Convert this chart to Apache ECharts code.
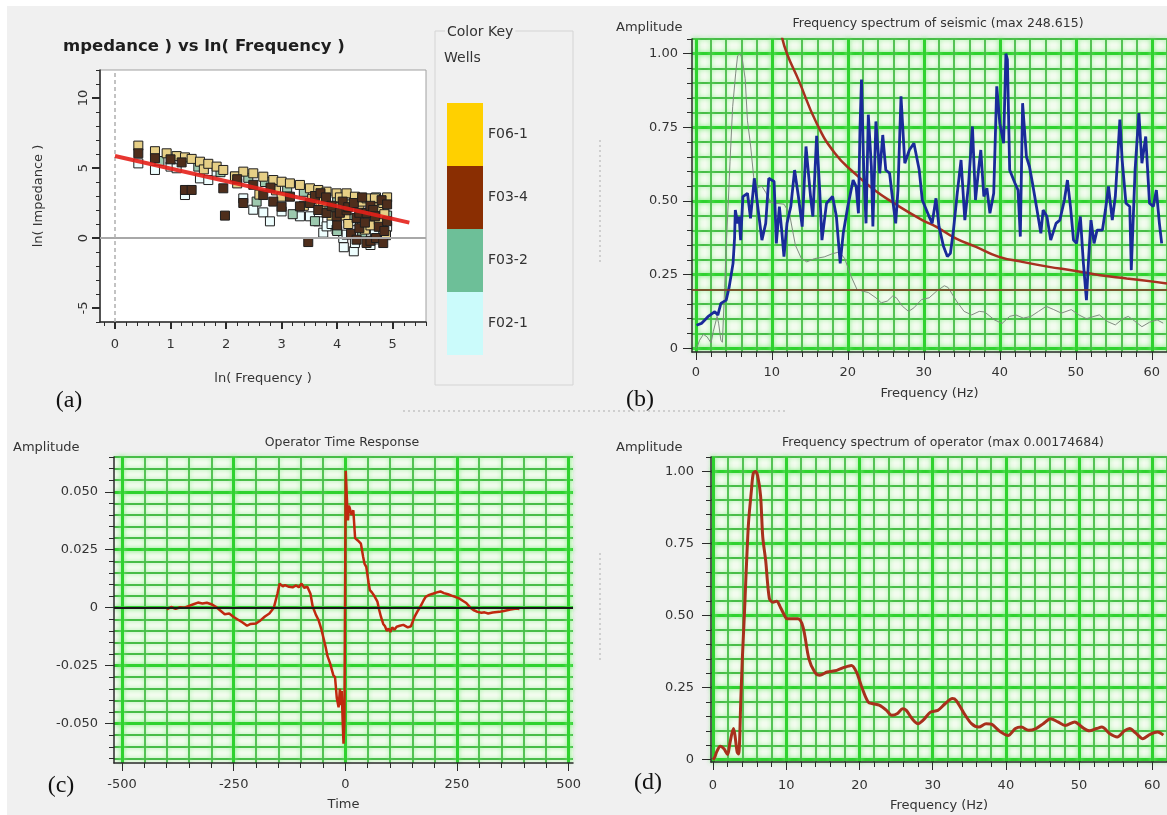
<!DOCTYPE html>
<html>
<head>
<meta charset="utf-8">
<title>Impedance trend and spectra</title>
<script src="https://cdn.jsdelivr.net/npm/echarts@6/dist/echarts.min.js"></script>
<style>
  html, body { margin: 0; padding: 0; background: #f0f0f0; }
  #main { width: 1167px; height: 815px; }
</style>
</head>
<body>
<div id="main"></div>
<script>
// (a) ln(Impedance) vs ln(Frequency), one list per well, [lnF, lnZ]
var wellF06_1 = [[0.42,6.6],[0.72,6.2],[0.93,6.05],[1.11,5.85],[1.26,5.76],[1.38,5.65],[1.53,5.45],[1.6,4.9],[1.68,5.3],[1.83,5.1],
  [1.95,4.86],[2.16,4.4],[2.2,3.9],[2.31,4.74],[2.49,4.62],[2.6,3.1],[2.67,4.38],[2.85,4.14],[2.9,3.4],[3.0,4.02],[3.0,2.95],
  [3.15,3.9],[3.33,3.79],[3.4,2.3],[3.51,3.55],[3.55,2.8],[3.66,3.43],[3.7,2.4],[3.75,2.6],[3.81,3.31],[3.9,1.6],[3.95,2.2],
  [3.99,3.19],[4.05,2.9],[4.15,1.6],[4.17,3.19],[4.2,1.0],[4.25,2.4],[4.32,2.95],[4.4,2.1],[4.45,2.6],[4.5,0.6],[4.53,2.83],
  [4.6,1.9],[4.6,0.9],[4.68,2.83],[4.75,1.3],[4.75,2.2],[4.83,2.5],[4.85,1.7],[4.88,0.2],[4.9,2.9]];
var wellF03_4 = [[0.42,6.05],[0.72,5.7],[1.0,5.62],[1.2,5.4],[1.26,3.43],[1.38,3.43],[1.95,3.55],[1.98,1.6],[2.2,4.2],[2.31,2.5],
  [2.49,3.8],[2.67,3.07],[2.8,3.6],[2.85,2.6],[3.0,2.23],[3.15,2.95],[3.33,2.26],[3.48,-0.29],[3.51,2.5],[3.6,3.0],[3.66,2.0],
  [3.7,3.2],[3.8,2.9],[3.81,1.79],[3.9,2.3],[3.99,1.55],[4.0,0.9],[4.05,1.8],[4.1,2.6],[4.17,1.98],[4.2,2.2],[4.25,0.3],
  [4.3,2.5],[4.35,1.43],[4.35,-0.12],[4.4,1.8],[4.4,0.7],[4.45,2.9],[4.5,1.1],[4.53,1.79],[4.53,-0.36],[4.6,2.3],[4.6,-0.2],
  [4.65,2.0],[4.68,1.55],[4.7,0.0],[4.75,0.8],[4.8,2.7],[4.83,-0.36],[4.85,0.5],[4.9,1.2],[4.9,2.4]];
var wellF03_2 = [[0.8,5.5],[1.5,5.1],[1.9,4.7],[2.4,4.3],[2.55,2.6],[2.7,4.0],[3.1,3.6],[3.2,1.7],[3.4,3.3],[3.6,1.2],[3.7,2.9],
  [3.85,2.1],[4.0,2.8],[4.0,0.5],[4.1,1.9],[4.2,1.4],[4.3,2.7],[4.45,0.4],[4.55,1.4],[4.6,2.6],[4.7,2.9],[4.8,1.0],[4.85,2.2],
  [4.9,1.6]];
var wellF02_1 = [[0.42,5.33],[0.72,4.86],[1.0,5.1],[1.11,4.98],[1.26,3.07],[1.53,4.26],[1.68,4.14],[1.83,4.74],[2.16,4.38],
  [2.31,2.83],[2.49,2.02],[2.67,1.83],[2.79,1.19],[3.0,1.9],[3.33,1.55],[3.51,1.55],[3.66,1.19],[3.75,0.38],[3.81,0.83],
  [3.9,1.0],[3.99,0.6],[4.11,0.0],[4.12,-0.66],[4.17,0.24],[4.25,1.2],[4.3,-0.95],[4.32,-0.36],[4.45,1.0],[4.55,0.2],
  [4.6,-0.5],[4.68,0.36],[4.75,-0.1],[4.83,0.36],[4.9,0.8]];
var fitLine = [[0, 5.86], [5.3, 1.1]];
var wellNames = ['F06-1', 'F03-4', 'F03-2', 'F02-1'];
var wellKeyColors = ['#ffd000', '#8a2e02', '#6dbf98', '#cbfbfb'];
var wellFillColors = ['#e6cf86', '#4e2e1c', '#9cc9ae', '#eefefe'];

// (b) seismic spectrum, normalised, [Hz, amplitude]
var seismicSpectrum = [[0.1,0.078],[0.74,0.084],[1.6,0.107],[2.5,0.124],[2.9,0.112],[3.3,0.152],[4.0,0.163],[4.4,0.209],
  [4.9,0.288],[5.1,0.373],[5.2,0.469],[5.5,0.424],[5.7,0.447],[5.9,0.367],[6.2,0.515],[6.8,0.526],[7.2,0.441],[7.7,0.577],
  [8.1,0.492],[8.7,0.367],[9.2,0.424],[9.6,0.577],[10.3,0.566],[10.6,0.356],[11.0,0.481],[11.3,0.401],[11.6,0.311],[12.0,0.424],
  [12.5,0.481],[13.0,0.605],[13.5,0.515],[14.0,0.413],[14.5,0.685],[15.1,0.515],[15.4,0.447],[15.9,0.721],[16.3,0.537],
  [16.6,0.367],[17.2,0.492],[18.0,0.515],[18.5,0.447],[19.0,0.288],[19.4,0.39],[20.0,0.481],[20.7,0.571],[21.1,0.549],
  [21.4,0.458],[21.6,0.741],[21.8,0.912],[22.1,0.605],[22.4,0.424],[22.7,0.793],[23.1,0.617],[23.3,0.413],[23.7,0.77],
  [24.2,0.594],[24.6,0.724],[25.0,0.605],[25.5,0.594],[25.8,0.526],[26.3,0.424],[26.6,0.537],[27.0,0.855],[27.5,0.628],
  [28.1,0.673],[28.7,0.696],[29.4,0.605],[29.8,0.503],[30.7,0.447],[31.1,0.424],[31.6,0.509],[32.0,0.413],[32.6,0.345],
  [33.1,0.311],[33.5,0.322],[33.9,0.401],[34.4,0.526],[34.9,0.639],[35.4,0.435],[35.9,0.56],[36.4,0.753],[36.8,0.503],
  [37.2,0.605],[37.5,0.673],[37.9,0.515],[38.3,0.543],[38.7,0.458],[39.2,0.526],[39.6,0.889],[40.0,0.764],[40.5,0.696],
  [40.8,1.0],[41.0,0.98],[41.3,0.605],[42.0,0.56],[42.4,0.537],[42.7,0.379],[43.0,0.832],[43.5,0.651],[43.9,0.617],
  [44.3,0.56],[44.9,0.469],[45.4,0.39],[45.7,0.469],[46.2,0.447],[46.7,0.367],[47.4,0.424],[47.9,0.435],[48.5,0.503],
  [48.9,0.571],[49.3,0.481],[49.7,0.367],[50.1,0.356],[50.6,0.447],[51.0,0.288],[51.4,0.163],[51.7,0.311],[52.0,0.435],
  [52.4,0.356],[52.8,0.401],[53.5,0.401],[53.9,0.469],[54.3,0.549],[54.8,0.435],[55.2,0.515],[55.8,0.776],[56.1,0.639],
  [56.6,0.492],[57.1,0.481],[57.3,0.265],[57.8,0.605],[58.3,0.798],[58.7,0.628],[59.2,0.719],[59.7,0.492],[60.2,0.481],
  [60.6,0.537],[61.0,0.424],[61.3,0.356]];
var seismicDecay = [[11.3,1.06],[12.0,1.0],[13.5,0.912],[15.9,0.764],[18.3,0.662],[20.9,0.594],[23.5,0.537],[26.1,0.492],
  [29.8,0.435],[31.6,0.413],[34.2,0.373],[36.8,0.345],[39.8,0.311],[42.8,0.294],[46.3,0.277],[49.8,0.263],[53.2,0.248],
  [56.7,0.237],[60.2,0.226],[62,0.22]];
var seismicLevel = 0.198;

// (d) operator spectrum, normalised; also the thin grey trace in (b)
var operatorSpectrum = [[0,0],[0.25,0.009],[0.5,0.027],[1.0,0.047],[1.5,0.038],[2.0,0.018],[2.3,0.056],[2.8,0.108],[3.0,0.085],
  [3.3,0.027],[3.5,0.02],[3.8,0.206],[4.0,0.345],[4.3,0.51],[4.5,0.633],[4.85,0.82],[5.25,0.934],[5.5,0.993],[5.8,1.0],
  [6.1,0.985],[6.5,0.915],[6.8,0.772],[7.2,0.69],[7.7,0.559],[8.2,0.546],[8.7,0.55],[9.2,0.529],[9.9,0.494],[10.1,0.489],
  [11.6,0.489],[12.3,0.46],[13.1,0.35],[13.9,0.304],[14.6,0.293],[15.6,0.304],[16.9,0.31],[17.9,0.32],[18.9,0.327],
  [19.6,0.304],[20.4,0.246],[21.2,0.2],[21.9,0.194],[22.7,0.189],[23.7,0.171],[24.4,0.154],[25.2,0.16],[25.9,0.177],
  [26.4,0.171],[27.2,0.142],[28.0,0.125],[28.7,0.137],[29.7,0.165],[30.7,0.171],[31.7,0.194],[32.7,0.212],[33.2,0.206],
  [34.3,0.16],[35.3,0.125],[36.3,0.113],[37.3,0.125],[38.0,0.123],[39.3,0.096],[40.3,0.084],[41.3,0.108],[42.1,0.113],
  [43.1,0.102],[44.1,0.108],[45.1,0.125],[46.1,0.142],[47.1,0.131],[48.1,0.119],[49.4,0.131],[50.4,0.113],[51.4,0.1],
  [52.4,0.108],[53.1,0.113],[54.2,0.09],[55.2,0.079],[56.2,0.1],[56.9,0.108],[57.7,0.093],[58.7,0.073],[59.7,0.088],
  [60.7,0.096],[61.5,0.085]];

// (c) operator time response, [ms, amplitude]
var operatorResponse = [[-400,-0.0007],[-390,0.0003],[-380,-0.0005],[-370,0.0002],[-360,0.0],[-350,0.0008],[-340,0.0015],
  [-330,0.0022],[-320,0.0018],[-310,0.0021],[-300,0.0015],[-290,0.0004],[-280,-0.0012],[-270,-0.0028],[-260,-0.0025],
  [-250,-0.004],[-240,-0.0052],[-230,-0.0064],[-220,-0.0078],[-212,-0.007],[-200,-0.0068],[-190,-0.0055],[-180,-0.0038],
  [-170,-0.0025],[-160,0.0],[-152,0.006],[-147,0.0104],[-140,0.0092],[-135,0.0097],[-126,0.009],[-118,0.0088],[-110,0.0096],
  [-104,0.0088],[-98,0.0104],[-92,0.0086],[-85,0.009],[-78,0.006],[-73,0.0005],[-66,-0.003],[-60,-0.0053],[-54,-0.009],
  [-48,-0.0137],[-44,-0.017],[-40,-0.0208],[-34,-0.024],[-27,-0.029],[-23,-0.03],[-19,-0.039],[-15,-0.043],[-12,-0.035],
  [-10,-0.042],[-8,-0.036],[-6,-0.048],[-4,-0.0587],[-2,-0.05],[1,0.059],[4,0.045],[6,0.0376],[8,0.044],[10,0.043],
  [14,0.04],[18,0.042],[22,0.03],[28,0.029],[35,0.0276],[40,0.022],[43,0.019],[47,0.0176],[52,0.011],[55,0.0076],[60,0.0065],
  [64,0.0054],[72,0.0026],[76,-0.001],[80,-0.004],[85,-0.007],[89,-0.008],[93,-0.01],[97,-0.009],[101,-0.0105],[105,-0.0085],
  [110,-0.0095],[115,-0.0082],[122,-0.0078],[130,-0.0074],[140,-0.0085],[147,-0.008],[155,-0.004],[162,-0.0015],[167,0.0],
  [175,0.003],[180,0.0047],[188,0.0055],[196,0.006],[205,0.0066],[213,0.007],[221,0.0063],[230,0.0058],[238,0.0052],
  [246,0.0047],[255,0.004],[263,0.003],[271,0.002],[280,0.0],[287,-0.001],[296,-0.0018],[305,-0.0022],[312,-0.002],
  [320,-0.0025],[330,-0.0021],[345,-0.0018],[355,-0.0014],[370,-0.0008],[383,-0.0004],[390,-0.0006]];

// tick labels
var lnFreqTicks = [0, 1, 2, 3, 4, 5];
var lnImpTicks = [-5, 0, 5, 10];
var freqTicks = [0, 10, 20, 30, 40, 50, 60];
var ampTicks = [0, 0.25, 0.5, 0.75, 1.0];
var timeTicks = [-500, -250, 0, 250, 500];
var opAmpTicks = [-0.05, -0.025, 0, 0.025, 0.05];

function steps(a, b, s) {
  var out = [], n = Math.round((b - a) / s);
  for (var i = 0; i <= n; i++) out.push(+(a + i * s).toFixed(6));
  return out;
}

var FONT = '"DejaVu Sans", Verdana, sans-serif';
var INK = '#333';
var minorGrid = {color: '#48bd48', width: 1.8, shadowColor: 'rgba(120,235,120,0.7)', shadowBlur: 4};
var majorGrid = {color: '#2fd22f', width: 3, shadowColor: 'rgba(120,235,120,0.7)', shadowBlur: 5};

function axis(o) {
  return {
    type: 'value', gridIndex: o.grid, position: o.pos, min: o.min, max: o.max,
    axisLine: {show: !!o.line, onZero: false, lineStyle: {color: '#2a2a2a', width: 1.5}},
    axisTick: {show: true, customValues: o.ticks, length: o.tickLen, lineStyle: {color: '#2a2a2a', width: o.tickW || 1}},
    axisLabel: o.fmt ? {show: true, customValues: o.ticks, formatter: o.fmt, margin: o.margin, rotate: o.rotate || 0,
      color: INK, fontSize: 13, fontFamily: FONT} : {show: false},
    splitLine: o.split ? {show: true, lineStyle: o.split} : {show: false},
    name: o.name || '', nameLocation: 'middle', nameGap: o.nameGap || 0,
    nameTextStyle: {color: INK, fontSize: 13, fontFamily: FONT}
  };
}
function plain(v) { return String(v); }
function amp2(v) { return v === 0 ? '0' : v.toFixed(2); }
function amp3(v) { return v === 0 ? '0' : v.toFixed(3); }

var xAxes = [
  axis({grid: 0, pos: 'bottom', min: -0.27, max: 5.6, ticks: steps(-0.2, 5.6, 0.2), tickLen: 4}),
  axis({grid: 0, pos: 'bottom', min: -0.27, max: 5.6, ticks: lnFreqTicks, tickLen: 7, tickW: 2, line: true,
        fmt: plain, margin: 16, name: 'ln( Frequency )', nameGap: 50}),
  axis({grid: 1, pos: 'bottom', min: -0.5, max: 62, ticks: steps(0, 62, 2), tickLen: 5, split: minorGrid}),
  axis({grid: 1, pos: 'bottom', min: -0.5, max: 62, ticks: freqTicks, tickLen: 8, line: true, split: majorGrid,
        fmt: plain, margin: 14, name: 'Frequency (Hz)', nameGap: 35}),
  axis({grid: 2, pos: 'bottom', min: -518, max: 510, ticks: steps(-500, 500, 50), tickLen: 5, split: minorGrid}),
  axis({grid: 2, pos: 'bottom', min: -518, max: 510, ticks: timeTicks, tickLen: 8, line: true, split: majorGrid,
        fmt: plain, margin: 15, name: 'Time', nameGap: 35}),
  axis({grid: 3, pos: 'bottom', min: -0.27, max: 62, ticks: steps(0, 62, 2), tickLen: 5, split: minorGrid}),
  axis({grid: 3, pos: 'bottom', min: -0.27, max: 62, ticks: freqTicks, tickLen: 8, line: true, split: majorGrid,
        fmt: plain, margin: 17, name: 'Frequency (Hz)', nameGap: 37})
];
var yAxes = [
  axis({grid: 0, pos: 'left', min: -6, max: 12, ticks: steps(-6, 12, 1), tickLen: 4}),
  axis({grid: 0, pos: 'left', min: -6, max: 12, ticks: lnImpTicks, tickLen: 8, tickW: 2, line: true,
        fmt: plain, margin: 10, rotate: 90, name: 'ln( Impedance )', nameGap: 55}),
  axis({grid: 1, pos: 'left', min: -0.013, max: 1.05, ticks: steps(0, 1.05, 0.05), tickLen: 5, split: minorGrid}),
  axis({grid: 1, pos: 'left', min: -0.013, max: 1.05, ticks: ampTicks, tickLen: 9, line: true, split: majorGrid,
        fmt: amp2, margin: 14}),
  axis({grid: 2, pos: 'left', min: -0.067, max: 0.065, ticks: steps(-0.065, 0.065, 0.005), tickLen: 5, split: minorGrid}),
  axis({grid: 2, pos: 'left', min: -0.067, max: 0.065, ticks: opAmpTicks, tickLen: 9, line: true, split: majorGrid,
        fmt: amp3, margin: 16}),
  axis({grid: 3, pos: 'left', min: -0.008, max: 1.05, ticks: steps(0, 1.05, 0.05), tickLen: 5, split: minorGrid}),
  axis({grid: 3, pos: 'left', min: -0.008, max: 1.05, ticks: ampTicks, tickLen: 9, line: true, split: majorGrid,
        fmt: amp2, margin: 17})
];

var wellData = [wellF06_1, wellF03_4, wellF03_2, wellF02_1];
var drawOrder = [3, 2, 0, 1];
var series = [];
drawOrder.forEach(function (i) {
  series.push({
    name: wellNames[i], type: 'scatter', xAxisIndex: 1, yAxisIndex: 1,
    symbol: 'rect', symbolSize: 9, data: wellData[i],
    itemStyle: {color: wellFillColors[i], borderColor: '#1e1e1e', borderWidth: 1, opacity: 1}
  });
});
series.push({
  type: 'line', xAxisIndex: 1, yAxisIndex: 1, data: fitLine, symbol: 'none', z: 5,
  lineStyle: {color: '#e4201a', width: 4, opacity: 0.9},
  markLine: {silent: true, symbol: ['none', 'none'], label: {show: false},
    data: [
      {yAxis: 0, lineStyle: {color: '#a8a8a8', width: 2, type: 'solid'}},
      {xAxis: 0, lineStyle: {color: '#b0b0b0', width: 1.5, type: [4, 3]}}
    ]}
});
series.push({
  type: 'line', xAxisIndex: 3, yAxisIndex: 3, data: operatorSpectrum, symbol: 'none',
  lineStyle: {color: '#808c80', width: 1}
});
series.push({
  type: 'line', xAxisIndex: 3, yAxisIndex: 3, data: seismicDecay, symbol: 'none', smooth: true,
  lineStyle: {color: '#a83020', width: 2.5},
  markLine: {silent: true, symbol: ['none', 'none'], label: {show: false},
    lineStyle: {color: '#8a3324', width: 1.5, type: 'solid'}, data: [{yAxis: seismicLevel}]}
});
series.push({
  type: 'line', xAxisIndex: 3, yAxisIndex: 3, data: seismicSpectrum, symbol: 'none',
  lineStyle: {color: '#1a2a9a', width: 2.8}
});
series.push({
  type: 'line', xAxisIndex: 5, yAxisIndex: 5, data: operatorResponse, symbol: 'none',
  lineStyle: {color: '#c0280f', width: 2.5},
  markLine: {silent: true, symbol: ['none', 'none'], label: {show: false},
    lineStyle: {color: '#1a1a1a', width: 2, type: 'solid'}, data: [{yAxis: 0}]}
});
series.push({
  type: 'line', xAxisIndex: 7, yAxisIndex: 7, data: operatorSpectrum, symbol: 'none', smooth: 0.3,
  lineStyle: {color: '#a8301c', width: 3}
});

function txt(x, y, s, size, align, extra) {
  var style = {text: s, fill: INK, font: size + 'px ' + FONT, align: align || 'left', verticalAlign: 'middle'};
  for (var k in extra) style[k] = extra[k];
  return {type: 'text', x: x, y: y, z: 10, style: style};
}
function dotted(x1, y1, x2, y2) {
  return {type: 'line', shape: {x1: x1, y1: y1, x2: x2, y2: y2},
    style: {stroke: '#c4c4c4', lineWidth: 1.5, lineDash: [2, 3]}};
}
var serif = '24px "Liberation Serif", "Times New Roman", serif';

var chart = echarts.init(document.getElementById('main'));
chart.setOption({
  animation: false,
  backgroundColor: '#f0f0f0',
  grid: [
    {left: 100, top: 70, width: 326, height: 252, show: true, backgroundColor: '#fff', borderColor: '#a0a0a0', borderWidth: 1},
    {left: 692, top: 39, width: 480, height: 313, show: true, backgroundColor: '#f3fcef', borderWidth: 0},
    {left: 114, top: 457, width: 459, height: 306, show: true, backgroundColor: '#f3fcef', borderWidth: 0},
    {left: 711, top: 457, width: 461, height: 305, show: true, backgroundColor: '#f3fcef', borderWidth: 0}
  ],
  xAxis: xAxes,
  yAxis: yAxes,
  legend: {
    orient: 'vertical', left: 442, top: 98, itemWidth: 36, itemHeight: 63, itemGap: 0,
    icon: 'rect', selectedMode: false, itemStyle: {borderWidth: 0, opacity: 1},
    textStyle: {color: INK, fontSize: 14, fontFamily: FONT},
    data: wellNames.map(function (n, i) {
      return {name: n, itemStyle: {color: wellKeyColors[i], borderWidth: 0, opacity: 1}};
    })
  },
  graphic: [
    {type: 'rect', shape: {x: 0, y: 0, width: 1167, height: 6}, style: {fill: '#fff'}},
    {type: 'rect', shape: {x: 0, y: 0, width: 7, height: 815}, style: {fill: '#fff'}},
    {type: 'rect', shape: {x: 435, y: 31, width: 138, height: 354}, style: {fill: 'none', stroke: '#d4d4d4', lineWidth: 1}},
    dotted(600, 140, 600, 262), dotted(600, 553, 600, 660), dotted(403, 411, 786, 411),
    txt(63, 47, 'mpedance ) vs ln( Frequency )', 16.5, 'left', {font: 'bold 16.5px ' + FONT, fill: '#1e1e1e'}),
    txt(445, 32, 'Color Key', 14, 'left', {backgroundColor: '#f0f0f0', padding: [0, 2]}),
    txt(444, 58, 'Wells', 14),
    txt(616, 28, 'Amplitude', 13),
    txt(938, 24, 'Frequency spectrum of seismic (max 248.615)', 12.5, 'center'),
    txt(13, 448, 'Amplitude', 13),
    txt(342, 443, 'Operator Time Response', 12.5, 'center'),
    txt(616, 448, 'Amplitude', 13),
    txt(943, 443, 'Frequency spectrum of operator (max 0.00174684)', 12.5, 'center'),
    txt(69, 401, '(a)', 24, 'center', {font: serif, fill: '#111'}),
    txt(640, 400, '(b)', 24, 'center', {font: serif, fill: '#111'}),
    txt(61, 786, '(c)', 24, 'center', {font: serif, fill: '#111'}),
    txt(648, 783, '(d)', 24, 'center', {font: serif, fill: '#111'})
  ],
  series: series
});
</script>
</body>
</html>
